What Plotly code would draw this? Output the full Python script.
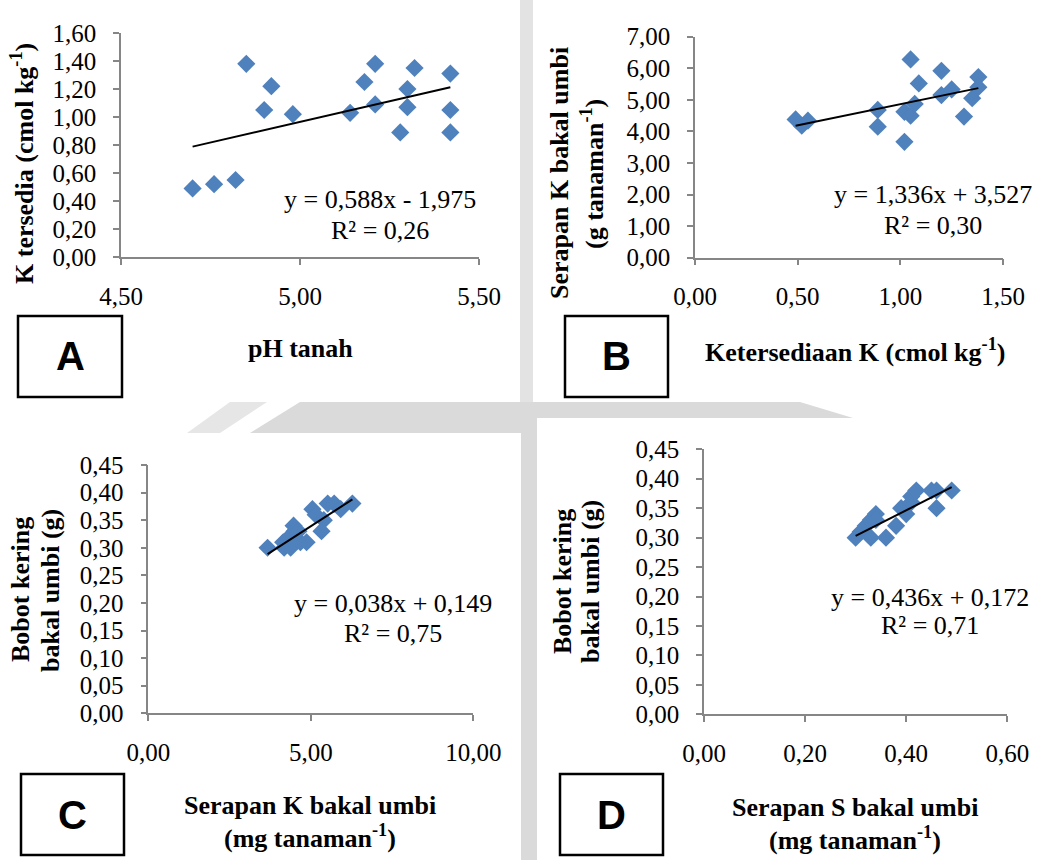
import plotly.graph_objects as go

# ---------------- data ----------------
# Panel A: pH tanah vs K tersedia
a_ph = [4.70, 4.76, 4.82, 4.85, 4.90, 4.92, 4.98, 5.14, 5.18, 5.21, 5.21, 5.28, 5.30, 5.30, 5.32, 5.42, 5.42, 5.42]
a_k = [0.49, 0.52, 0.55, 1.38, 1.05, 1.22, 1.02, 1.03, 1.25, 1.38, 1.09, 0.89, 1.20, 1.07, 1.35, 1.31, 1.05, 0.89]

# Panel B: Ketersediaan K vs Serapan K bakal umbi
b_k = [0.49, 0.52, 0.55, 0.89, 0.89, 1.02, 1.02, 1.05, 1.05, 1.07, 1.09, 1.20, 1.20, 1.25, 1.31, 1.35, 1.38, 1.38]
b_serapan = [4.38, 4.18, 4.34, 4.68, 4.15, 4.62, 3.67, 6.28, 4.50, 4.87, 5.52, 5.92, 5.15, 5.33, 4.47, 5.05, 5.72, 5.40]

# Panel C: Serapan K bakal umbi vs Bobot kering bakal umbi
c_serapan_k = [3.67, 4.15, 4.18, 4.34, 4.38, 4.47, 4.50, 4.62, 4.68, 4.87, 5.05, 5.15, 5.33, 5.40, 5.52, 5.72, 5.92, 6.28]
c_bobot = [0.30, 0.31, 0.30, 0.32, 0.30, 0.34, 0.33, 0.33, 0.31, 0.31, 0.37, 0.36, 0.33, 0.35, 0.38, 0.38, 0.37, 0.38]

# Panel D: Serapan S bakal umbi vs Bobot kering bakal umbi
d_serapan_s = [0.30, 0.31, 0.32, 0.33, 0.33, 0.34, 0.34, 0.36, 0.38, 0.39, 0.40, 0.41, 0.41, 0.42, 0.45, 0.46, 0.46, 0.49]
d_bobot = [0.30, 0.31, 0.32, 0.30, 0.33, 0.34, 0.33, 0.30, 0.32, 0.35, 0.34, 0.37, 0.36, 0.38, 0.38, 0.35, 0.38, 0.38]

# regression coefficients (slope, intercept) and labels
slopes = [0.588, 1.336, 0.038, 0.436]
intercepts = [-1.975, 3.527, 0.149, 0.172]
equations = ["y = 0,588x - 1,975", "y = 1,336x + 3,527", "y = 0,038x + 0,149", "y = 0,436x + 0,172"]
r2_labels = ["R² = 0,26", "R² = 0,30", "R² = 0,75", "R² = 0,71"]
panel_letters = ["A", "B", "C", "D"]

x_titles = [
    ["pH tanah"],
    ["Ketersediaan K (cmol kg<sup>-1</sup>)"],
    ["Serapan K bakal umbi", "(mg tanaman<sup>-1</sup>)"],
    ["Serapan S bakal umbi", "(mg tanaman<sup>-1</sup>)"],
]
y_titles = [
    ["K tersedia (cmol kg<sup>-1</sup>)"],
    ["Serapan K bakal umbi", "(g tanaman<sup>-1</sup>)"],
    ["Bobot kering", "bakal umbi (g)"],
    ["Bobot kering", "bakal umbi (g)"],
]

x_ranges = [[4.5, 5.5], [0, 1.5], [0, 10], [0, 0.6]]
x_dticks = [0.5, 0.5, 5, 0.2]
y_ranges = [[0, 1.6], [0, 7], [0, 0.45], [0, 0.45]]
y_dticks = [0.2, 1, 0.05, 0.05]

xs = [a_ph, b_k, c_serapan_k, d_serapan_s]
ys = [a_k, b_serapan, c_bobot, d_bobot]

# ---------------- layout geometry (pixels) ----------------
W, H = 1045, 860
def fx(p):
    return p / W
def fy(p):
    return 1 - p / H

plot_px = [  # x0, x1, ytop, ybottom
    (121, 479, 33, 257),
    (695, 1003, 36.7, 257.7),
    (148.3, 473.3, 465, 713.3),
    (704, 1007.3, 449.3, 714.3),
]
eq_pos = [(380, 200, 230), (933, 195, 226), (393, 603, 633), (930, 597, 625)]
xtitle_pos = [[(300, 348)], [(855, 350)], [(310, 805), (310, 836)], [(855, 807), (855, 838)]]
ytitle_pos = [[(22, 164)], [(560, 173), (592, 174)], [(20, 590), (50, 591)], [(562, 582), (590, 582)]]
box_pos = [(18, 316, 122, 397), (565, 316, 668, 397), (21, 774, 124, 855), (560, 774, 663, 855)]

SERIF = "Liberation Serif"
BLUE = "#4F81BD"
AXC = "#868686"

fig = go.Figure()
layout = dict(
    width=W, height=H,
    margin=dict(l=0, r=0, t=0, b=0, autoexpand=False),
    paper_bgcolor="white", plot_bgcolor="rgba(0,0,0,0)",
    showlegend=False, separators=",.",
    font=dict(family=SERIF, color="black", size=25),
)

annotations = []
shapes = []

# watermark-like grey bands between panels
GREY = "#dadada"
shapes.append(dict(type="rect", xref="paper", yref="paper", x0=fx(520), x1=fx(533), y0=fy(402), y1=fy(0),
                   fillcolor="#e3e3e3", line=dict(width=0), layer="below"))
shapes.append(dict(type="rect", xref="paper", yref="paper", x0=fx(521), x1=fx(537), y0=fy(860), y1=fy(402),
                   fillcolor=GREY, line=dict(width=0), layer="below"))
shapes.append(dict(type="path", xref="paper", yref="paper",
                   path=f"M {fx(300)},{fy(402)} L {fx(521)},{fy(402)} L {fx(521)},{fy(433)} L {fx(250)},{fy(433)} Z",
                   fillcolor=GREY, line=dict(width=0), layer="below"))
shapes.append(dict(type="path", xref="paper", yref="paper",
                   path=f"M {fx(230)},{fy(402)} L {fx(267)},{fy(402)} L {fx(220)},{fy(433)} L {fx(187)},{fy(433)} Z",
                   fillcolor="#e6e6e6", line=dict(width=0), layer="below"))
shapes.append(dict(type="path", xref="paper", yref="paper",
                   path=f"M {fx(521)},{fy(402)} L {fx(800)},{fy(402)} L {fx(853)},{fy(418)} L {fx(521)},{fy(418)} Z",
                   fillcolor=GREY, line=dict(width=0), layer="below"))

def ann(x, y, text, size, angle=0, family=SERIF):
    return dict(xref="paper", yref="paper", x=fx(x), y=fy(y), text=text, showarrow=False,
                xanchor="center", yanchor="middle", textangle=angle,
                font=dict(family=family, size=size, color="black"))

for i in range(4):
    n = "" if i == 0 else str(i + 1)
    xa, ya = "x" + n, "y" + n
    x0, x1, yt, yb = plot_px[i]
    fig.add_trace(go.Scatter(
        x=xs[i], y=ys[i], mode="markers", xaxis=xa, yaxis=ya,
        marker=dict(symbol="diamond", size=14, color=BLUE, line=dict(width=0)),
    ))
    xmin, xmax = min(xs[i]), max(xs[i])
    fig.add_trace(go.Scatter(
        x=[xmin, xmax], y=[slopes[i] * xmin + intercepts[i], slopes[i] * xmax + intercepts[i]],
        mode="lines", xaxis=xa, yaxis=ya, line=dict(color="black", width=2),
    ))
    common = dict(showgrid=False, zeroline=False, showline=True, linecolor=AXC, linewidth=1.5,
                  ticks="outside", tickcolor=AXC, ticklen=6, tickwidth=1.5, automargin=False,
                  tickformat=".2f", tickfont=dict(family=SERIF, size=25, color="black"))
    layout["xaxis" + n] = dict(common, domain=[fx(x0), fx(x1)], range=x_ranges[i], dtick=x_dticks[i],
                               tick0=x_ranges[i][0], anchor=ya, ticklabelstandoff=10)
    layout["yaxis" + n] = dict(common, domain=[fy(yb), fy(yt)], range=y_ranges[i], dtick=y_dticks[i],
                               tick0=0, anchor=xa, ticklabelstandoff=12)

    ex, ey1, ey2 = eq_pos[i]
    annotations.append(ann(ex, ey1, equations[i], 26))
    annotations.append(ann(ex, ey2, r2_labels[i], 26))
    for txt, (tx, ty) in zip(x_titles[i], xtitle_pos[i]):
        annotations.append(ann(tx, ty, "<b>" + txt + "</b>", 26))
    for txt, (yx, yy) in zip(y_titles[i], ytitle_pos[i]):
        annotations.append(ann(yx, yy, "<b>" + txt + "</b>", 26, angle=-90))
    bx0, by0, bx1, by1 = box_pos[i]
    shapes.append(dict(type="rect", xref="paper", yref="paper", x0=fx(bx0), x1=fx(bx1), y0=fy(by1), y1=fy(by0),
                       line=dict(color="black", width=2.5), fillcolor="white"))
    annotations.append(ann((bx0 + bx1) / 2, (by0 + by1) / 2, "<b>" + panel_letters[i] + "</b>", 40,
                           family="Liberation Sans"))

layout["annotations"] = annotations
layout["shapes"] = shapes
fig.update_layout(**layout)
fig.write_html("out.html", config={"displayModeBar": False},
               post_script="document.body.style.margin='0px';")
